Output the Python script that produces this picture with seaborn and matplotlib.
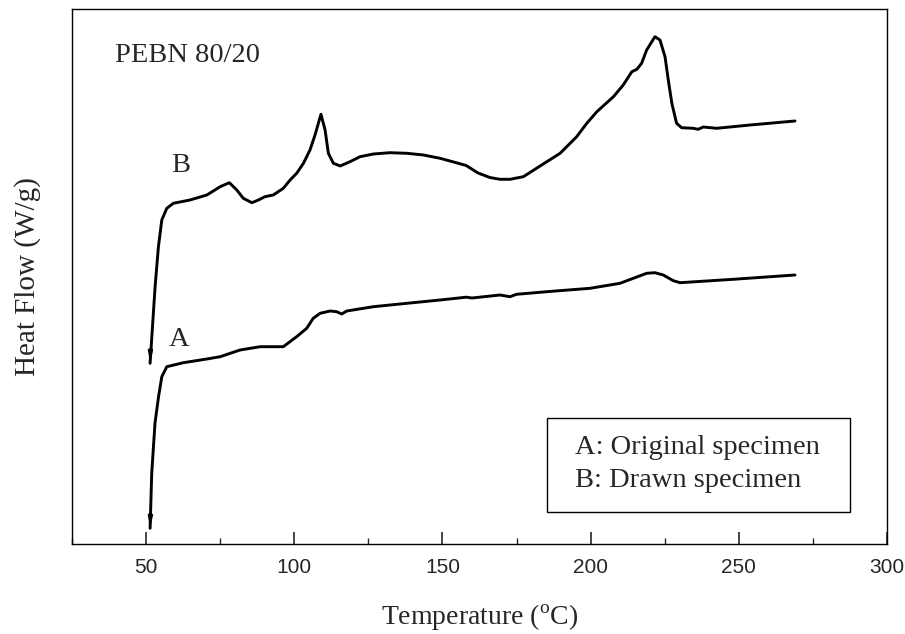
import numpy as np
import pandas as pd
import matplotlib
matplotlib.use("Agg")
import matplotlib.pyplot as plt
from matplotlib.ticker import MultipleLocator
from matplotlib.patches import Rectangle
import seaborn as sns

# Curve A: original specimen (temperature in C, heat flow in arbitrary units)
temp_a = [51.35, 51.9, 53.0, 54.2, 55.3, 57.0, 62.6, 70.5, 75.0, 81.7, 88.5, 96.3,
          100.8, 104.2, 106.4, 108.7, 112.1, 114.3, 116.0, 117.7, 126.7, 138.0,
          149.2, 158.0, 160.0, 169.4, 172.8, 175.0, 186.0, 199.8, 209.9, 214.4,
          218.9, 221.7, 224.5, 227.9, 230.2, 248.1, 268.96]
flow_a = [15.7, 70.7, 120.7, 147.3, 167.3, 177.3, 181.3, 185.0, 187.3, 194.0, 197.3,
          197.3, 207.3, 215.7, 225.7, 230.7, 233.0, 232.3, 230.0, 233.0, 237.3, 240.7,
          244.0, 246.8, 246.0, 249.0, 247.3, 249.7, 252.5, 255.7, 260.7, 265.7,
          270.7, 271.3, 269.0, 263.3, 261.3, 264.7, 269.0]

# Curve B: drawn specimen
temp_b = [51.35, 53.04, 54.16, 55.3, 56.98, 59.2, 64.8, 70.5, 75.0, 78.1, 80.6, 82.8,
          85.7, 87.9, 90.1, 92.9, 96.3, 98.6, 100.8, 103.1, 105.3, 107.0, 109.0,
          110.4, 111.5, 113.2, 115.5, 118.8, 122.2, 126.7, 132.3, 138.0, 143.6,
          149.2, 155.0, 158.0, 162.0, 166.0, 169.4, 172.8, 177.3, 184.0, 189.7,
          195.3, 198.7, 202.1, 207.7, 211.0, 213.9, 215.6, 217.2, 218.9, 221.7,
          223.4, 225.1, 226.2, 227.4, 229.0, 230.7, 234.6, 236.3, 238.0, 242.5,
          253.8, 268.96]
flow_b = [180.7, 257.3, 297.3, 324.0, 335.7, 340.7, 344.0, 349.0, 357.3, 361.3, 354.0,
          345.7, 341.3, 344.0, 347.3, 349.0, 355.7, 364.0, 370.7, 380.7, 394.0, 409.0,
          429.7, 414.0, 390.7, 380.7, 378.0, 382.3, 387.3, 390.0, 391.3, 390.7, 389.0,
          385.7, 381.0, 378.5, 371.0, 366.5, 364.7, 364.7, 367.3, 380.0, 390.7, 407.3,
          420.7, 432.3, 447.3, 459.0, 472.3, 474.7, 480.7, 494.0, 507.3, 504.0, 487.3,
          464.0, 440.7, 420.7, 416.3, 415.7, 414.7, 417.0, 415.7, 419.0, 423.0]

x_ticks = [50, 100, 150, 200, 250, 300]
title_text = "PEBN 80/20"
legend_lines = ["A: Original specimen", "B: Drawn specimen"]

sns.set_style("ticks")
plt.rcParams["font.family"] = ["Liberation Serif", "DejaVu Serif"]
plt.rcParams["mathtext.fontset"] = "custom"
plt.rcParams["mathtext.rm"] = "Liberation Serif"

df = pd.concat([
    pd.DataFrame({"T": temp_a, "H": flow_a, "curve": "A"}),
    pd.DataFrame({"T": temp_b, "H": flow_b, "curve": "B"}),
])

fig = plt.figure(figsize=(9.05, 6.34), dpi=100)
ax = fig.add_axes([72 / 905, 1 - 544 / 634, (887 - 72) / 905, (544 - 9) / 634])

sns.lineplot(data=df, x="T", y="H", units="curve", estimator=None, sort=False,
             color="black", linewidth=2.1, ax=ax, legend=False)

# small arrowheads at the start of each trace
for tx, fy in ((temp_a, flow_a), (temp_b, flow_b)):
    ax.annotate("", xy=(tx[0], fy[0]), xytext=(tx[0] + 0.12, fy[0] + 14),
                arrowprops=dict(arrowstyle="-|>,head_length=0.6,head_width=0.12",
                                color="black", lw=1.5, shrinkA=0, shrinkB=0))

ax.set_xlim(25, 300)
ax.set_ylim(0, 535)
ax.set_xticks(x_ticks)
ax.xaxis.set_minor_locator(MultipleLocator(25))
ax.set_yticks([])
ax.tick_params(axis="x", which="major", direction="in", length=8.5, width=1.2,
               labelsize=15, pad=10)
ax.tick_params(axis="x", which="minor", direction="in", length=4.5, width=1.0)
for lab in ax.get_xticklabels():
    lab.set_fontfamily(["Liberation Sans", "DejaVu Sans"])
for sp in ax.spines.values():
    sp.set_linewidth(1.0)
    sp.set_color("black")

ax.set_xlabel(r"Temperature ($^{\rm o}$C)", fontsize=20, labelpad=18.5)
ax.set_ylabel("Heat Flow (W/g)", fontsize=21, labelpad=22)

ax.text(39.5, 489, title_text, fontsize=20.5, ha="left", va="center")
ax.text(61.8, 378, "B", fontsize=20.5, ha="center", va="center")
ax.text(61.1, 205, "A", fontsize=20.5, ha="center", va="center")

# legend-like annotation box
ax.add_patch(Rectangle((0.583, 0.0598), 0.372, 0.1757, transform=ax.transAxes,
                       facecolor="white", edgecolor="black", linewidth=1.0, zorder=3))
ax.text(0.617, 0.181, legend_lines[0], transform=ax.transAxes, fontsize=20.5,
        ha="left", va="center", zorder=4)
ax.text(0.617, 0.1196, legend_lines[1], transform=ax.transAxes, fontsize=20.5,
        ha="left", va="center", zorder=4)

fig.savefig("out.png", dpi=100)
